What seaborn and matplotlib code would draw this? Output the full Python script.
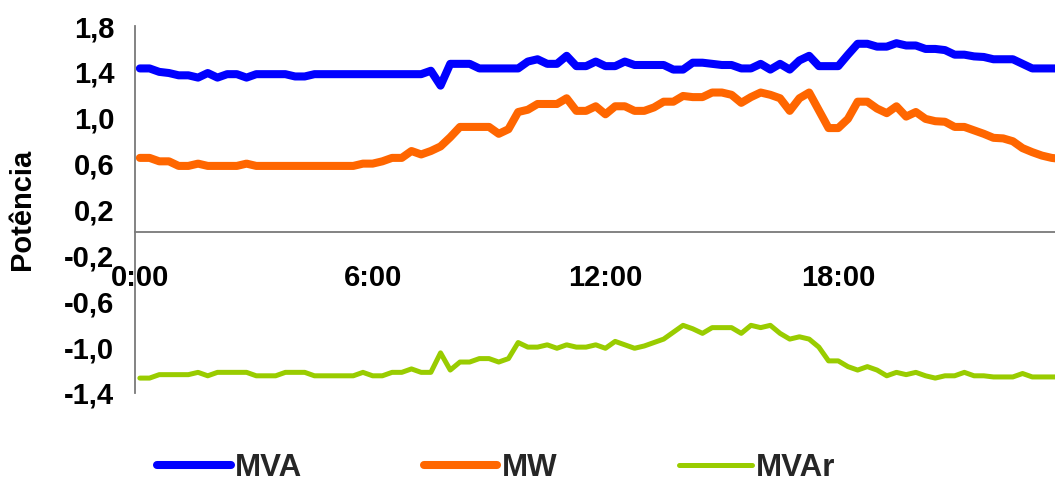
import numpy as np
import pandas as pd
import matplotlib
matplotlib.use("Agg")
import matplotlib.pyplot as plt
import seaborn as sns

# 15-minute samples over one day (hours)
hora = np.arange(96) * 0.25

mva = [1.43, 1.43, 1.40, 1.39, 1.37, 1.37, 1.35, 1.39, 1.35, 1.38,
       1.38, 1.35, 1.38, 1.38, 1.38, 1.38, 1.36, 1.36, 1.38, 1.38,
       1.38, 1.38, 1.38, 1.38, 1.38, 1.38, 1.38, 1.38, 1.38, 1.38,
       1.41, 1.28, 1.47, 1.47, 1.47, 1.43, 1.43, 1.43, 1.43, 1.43,
       1.49, 1.51, 1.47, 1.47, 1.54, 1.45, 1.45, 1.49, 1.45, 1.45,
       1.49, 1.46, 1.46, 1.46, 1.46, 1.42, 1.42, 1.48, 1.48, 1.47,
       1.46, 1.46, 1.43, 1.43, 1.47, 1.42, 1.47, 1.42, 1.50, 1.54,
       1.45, 1.45, 1.45, 1.55, 1.645, 1.645, 1.62, 1.62, 1.65, 1.63,
       1.63, 1.60, 1.60, 1.59, 1.55, 1.55, 1.535, 1.53, 1.51, 1.51,
       1.51, 1.47, 1.43, 1.43, 1.43, 1.43]

mw = [0.65, 0.65, 0.62, 0.62, 0.58, 0.58, 0.60, 0.58, 0.58, 0.58,
      0.58, 0.60, 0.58, 0.58, 0.58, 0.58, 0.58, 0.58, 0.58, 0.58,
      0.58, 0.58, 0.58, 0.60, 0.60, 0.62, 0.65, 0.65, 0.71, 0.68,
      0.71, 0.75, 0.83, 0.92, 0.92, 0.92, 0.92, 0.86, 0.90, 1.05,
      1.07, 1.12, 1.12, 1.12, 1.17, 1.06, 1.06, 1.10, 1.03, 1.10,
      1.10, 1.06, 1.06, 1.09, 1.14, 1.14, 1.19, 1.18, 1.18, 1.22,
      1.22, 1.20, 1.13, 1.18, 1.22, 1.20, 1.17, 1.06, 1.17, 1.22,
      1.065, 0.91, 0.91, 0.99, 1.14, 1.14, 1.08, 1.04, 1.10, 1.01,
      1.05, 0.99, 0.97, 0.965, 0.92, 0.92, 0.89, 0.86, 0.825, 0.82,
      0.795, 0.735, 0.70, 0.67, 0.65, 0.64]

mvar = [-1.27, -1.27, -1.24, -1.24, -1.24, -1.24, -1.22, -1.25, -1.22, -1.22,
        -1.22, -1.22, -1.25, -1.25, -1.25, -1.22, -1.22, -1.22, -1.25, -1.25,
        -1.25, -1.25, -1.25, -1.22, -1.25, -1.25, -1.22, -1.22, -1.19, -1.22,
        -1.22, -1.05, -1.20, -1.13, -1.13, -1.10, -1.10, -1.13, -1.10, -0.96,
        -1.00, -1.00, -0.98, -1.01, -0.98, -1.00, -1.00, -0.98, -1.01, -0.95,
        -0.98, -1.01, -0.99, -0.96, -0.93, -0.87, -0.81, -0.84, -0.88, -0.83,
        -0.83, -0.83, -0.88, -0.81, -0.83, -0.81, -0.88, -0.93, -0.91, -0.93,
        -1.00, -1.12, -1.12, -1.17, -1.20, -1.17, -1.20, -1.25, -1.22, -1.24,
        -1.22, -1.25, -1.27, -1.25, -1.25, -1.22, -1.25, -1.25, -1.26, -1.26,
        -1.26, -1.23, -1.26, -1.26, -1.26, -1.26]

x_ticks = [0, 6, 12, 18]
x_labels = ["0:00", "6:00", "12:00", "18:00"]
y_ticks = [-1.4, -1.0, -0.6, -0.2, 0.2, 0.6, 1.0, 1.4, 1.8]
y_labels = ["-1,4", "-1,0", "-0,6", "-0,2", "0,2", "0,6", "1,0", "1,4", "1,8"]

series = ["MVA", "MW", "MVAr"]
colors = {"MVA": "#0000FF", "MW": "#FF6600", "MVAr": "#99CC00"}
widths = {"MVA": 5.8, "MW": 5.8, "MVAr": 3.6}

df = pd.DataFrame({"hora": hora, "MVA": mva, "MW": mw, "MVAr": mvar})
long = df.melt(id_vars="hora", var_name="serie", value_name="pot")

sns.set_style("white")
plt.rcParams["font.family"] = ["Liberation Sans", "DejaVu Sans"]
plt.rcParams["font.weight"] = "bold"

W, H = 1055, 487
fig = plt.figure(figsize=(W / 100, H / 100), dpi=100)
fig.patch.set_facecolor("white")
# category slots are 15 min wide; the plot area runs past the right edge
ax = fig.add_axes([135 / W, 94 / H, 931.2 / W, 367 / H])

for s in series:
    sns.lineplot(data=long[long["serie"] == s], x="hora", y="pot",
                 color=colors[s], linewidth=widths[s], label=s, ax=ax,
                 solid_capstyle="round", solid_joinstyle="round")

ax.set_xlim(-0.125, 23.875)
ax.set_ylim(-1.4, 1.8)

for side in ["top", "right"]:
    ax.spines[side].set_visible(False)
ax.spines["bottom"].set_position(("data", 0))
for side in ["left", "bottom"]:
    ax.spines[side].set_color("#7a7a7a")
    ax.spines[side].set_linewidth(1.3)

ax.set_xticks(x_ticks)
ax.set_xticklabels(x_labels)
ax.set_xticks([t - 0.125 for t in x_ticks], minor=True)
ax.tick_params(axis="x", which="major", length=0, pad=23, labelsize=21,
               labelcolor="black")
ax.tick_params(axis="x", which="minor", length=5, width=1.0,
               color="#333333", direction="out")

ax.set_yticks(y_ticks)
ax.set_yticklabels(y_labels)
ax.tick_params(axis="y", length=6, width=1.0, color="#333333", pad=9,
               labelsize=21, labelcolor="black", direction="out")

ax.set_xlabel("")
ax.set_ylabel("")
fig.text(22 / W, 1 - 209 / H, "Potência", rotation=90, ha="center",
         va="center", fontsize=21, fontweight="bold", color="black")

handles, labels = ax.get_legend_handles_labels()
ax.get_legend().remove()
fig.legend(handles, labels, loc="center",
           bbox_to_anchor=(496.5 / W, 1 - 468 / H), ncol=3, frameon=False,
           handlelength=2.35, handletextpad=0.13, columnspacing=3.9,
           borderpad=0.2, prop={"size": 22.5, "weight": "bold"})

fig.savefig("out.png", dpi=100, facecolor="white")
